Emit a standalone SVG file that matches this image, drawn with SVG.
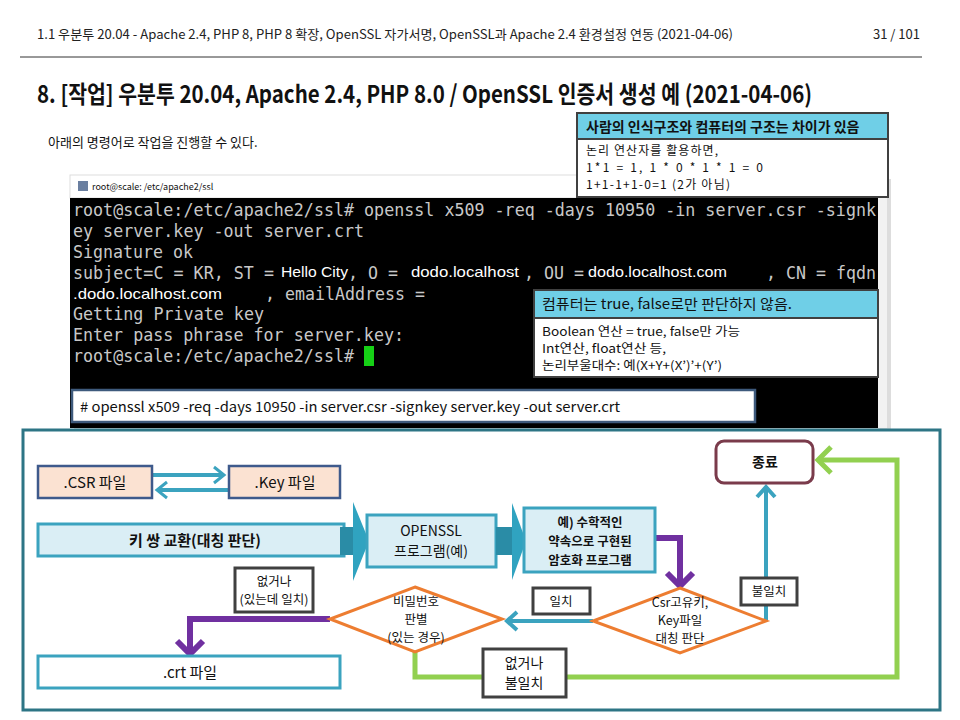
<svg xmlns="http://www.w3.org/2000/svg" width="960" height="720" viewBox="0 0 960 720">
<style>
text{font-family:"Noto Sans CJK KR","Noto Sans",sans-serif;fill:#111}
.hd{font-size:13px;fill:#222}
.mono{font-family:"DejaVu Sans Mono","Liberation Mono",monospace;font-size:17px;fill:#c8c8c8}
.wsans{font-family:"Liberation Sans","Noto Sans CJK KR",sans-serif;font-size:15px;fill:#fff}
.c{text-anchor:middle}
.n15{font-size:15px}
.n14{font-size:14px}
.n13{font-size:12.5px}
.b{font-weight:bold}
.cyanbox{fill:#daeef5;stroke:#3ba3bf;stroke-width:3}
.peach{fill:#fbe2d2;stroke:#3e5a8c;stroke-width:2.5}
.lbl{fill:#fff;stroke:#404040;stroke-width:3}
.dia{fill:#fff;stroke:#ed7d31;stroke-width:3}
.cy{fill:none;stroke:#3ba3bf;stroke-width:4}
.pu{fill:none;stroke:#7030a0;stroke-width:6}
.gr{fill:none;stroke:#92d050;stroke-width:5}
</style>
<defs>
<marker id="mc" viewBox="-16 -14 20 28" markerWidth="20" markerHeight="28" refX="0" refY="0" orient="auto" markerUnits="userSpaceOnUse"><path d="M-10,-9 L0,0 L-10,9" fill="none" stroke="#3ba3bf" stroke-width="4"/></marker>
<marker id="mcs" viewBox="-16 -14 20 28" markerWidth="20" markerHeight="28" refX="0" refY="0" orient="auto" markerUnits="userSpaceOnUse"><path d="M-10,-8 L0,0 L-10,8" fill="none" stroke="#3ba3bf" stroke-width="3"/></marker>
<marker id="mp" viewBox="-20 -18 24 36" markerWidth="24" markerHeight="36" refX="0" refY="0" orient="auto" markerUnits="userSpaceOnUse"><path d="M-13,-13 L0,0 L-13,13" fill="none" stroke="#7030a0" stroke-width="6"/></marker>
<marker id="mg" viewBox="-20 -18 24 36" markerWidth="24" markerHeight="36" refX="0" refY="0" orient="auto" markerUnits="userSpaceOnUse"><path d="M-13,-13 L0,0 L-13,13" fill="none" stroke="#92d050" stroke-width="5"/></marker>
</defs>
<rect width="960" height="720" fill="#fff"/>

<!-- header -->
<text class="hd" x="37" y="39" textLength="696" lengthAdjust="spacingAndGlyphs">1.1 우분투 20.04 - Apache 2.4, PHP 8, PHP 8 확장, OpenSSL 자가서명, OpenSSL과 Apache 2.4 환경설정 연동 (2021-04-06)</text>
<text class="hd" x="920" y="39" text-anchor="end">31 / 101</text>
<line x1="20" y1="57" x2="922" y2="57" stroke="#333" stroke-width="1"/>
<text x="37" y="103" font-size="24" font-weight="600" textLength="775" lengthAdjust="spacingAndGlyphs">8. [작업] 우분투 20.04, Apache 2.4, PHP 8.0 / OpenSSL 인증서 생성 예 (2021-04-06)</text>
<text x="48" y="147" font-size="13">아래의 명령어로 작업을 진행할 수 있다.</text>

<!-- terminal screenshot -->
<g id="terminal">
<rect x="74" y="179" width="817" height="253" fill="#bbb" opacity="0.5"/>
<rect x="70" y="175" width="817" height="23" fill="#fff" stroke="#ddd" stroke-width="1"/>
<text x="92" y="190" font-size="9" font-family="Liberation Sans,sans-serif" fill="#333">root@scale: /etc/apache2/ssl</text>
<rect x="78" y="181" width="10" height="10" fill="#6a7fa0"/>
<rect x="70" y="198" width="808" height="230" fill="#000"/>
<rect x="878" y="198" width="9" height="230" fill="#f2f2f2"/>
<text class="mono" x="73" y="216" textLength="803" lengthAdjust="spacingAndGlyphs">root@scale:/etc/apache2/ssl# openssl x509 -req -days 10950 -in server.csr -signk</text>
<text class="mono" x="73" y="237" textLength="291" lengthAdjust="spacingAndGlyphs">ey server.key -out server.crt</text>
<text class="mono" x="73" y="258" textLength="120" lengthAdjust="spacingAndGlyphs">Signature ok</text>
<text class="mono" x="73" y="279" textLength="201" lengthAdjust="spacingAndGlyphs">subject=C = KR, ST =</text>
<text class="wsans" x="281" y="277" textLength="67" lengthAdjust="spacingAndGlyphs">Hello City</text>
<text class="mono" x="348" y="279" textLength="50" lengthAdjust="spacingAndGlyphs">, O =</text>
<text class="wsans" x="411" y="277" textLength="108" lengthAdjust="spacingAndGlyphs">dodo.localhost</text>
<text class="mono" x="524" y="279" textLength="60" lengthAdjust="spacingAndGlyphs">, OU =</text>
<text class="wsans" x="588" y="277" textLength="139" lengthAdjust="spacingAndGlyphs">dodo.localhost.com</text>
<text class="mono" x="766" y="279" textLength="110" lengthAdjust="spacingAndGlyphs">, CN = fqdn</text>
<text class="wsans" x="73" y="299" textLength="149" lengthAdjust="spacingAndGlyphs">.dodo.localhost.com</text>
<text class="mono" x="265" y="300" textLength="160" lengthAdjust="spacingAndGlyphs">, emailAddress =</text>
<text class="mono" x="73" y="320" textLength="191" lengthAdjust="spacingAndGlyphs">Getting Private key</text>
<text class="mono" x="73" y="341" textLength="331" lengthAdjust="spacingAndGlyphs">Enter pass phrase for server.key:</text>
<text class="mono" x="73" y="362" textLength="281" lengthAdjust="spacingAndGlyphs">root@scale:/etc/apache2/ssl#</text>
<rect x="364" y="346" width="10" height="20" fill="#16d016"/>
</g>

<!-- callout 1 -->
<g id="note-human">
<rect x="577" y="113" width="311" height="84" fill="#fff" stroke="#404040" stroke-width="2"/>
<rect x="578" y="114" width="309" height="25" fill="#6fcfe7"/>
<line x1="577" y1="139" x2="888" y2="139" stroke="#404040" stroke-width="2"/>
<text x="586" y="132" font-size="14" font-weight="bold">사람의 인식구조와 컴퓨터의 구조는 차이가 있음</text>
<text x="586" y="155" font-size="12" textLength="132" lengthAdjust="spacing">논리 연산자를 활용하면,</text>
<text x="586" y="172" font-size="12" textLength="177" lengthAdjust="spacing">1*1 = 1, 1 * 0 * 1 * 1 = 0</text>
<text x="586" y="189" font-size="12" textLength="144" lengthAdjust="spacing">1+1-1+1-0=1 (2가 아님)</text>
</g>

<!-- callout 2 -->
<g id="note-computer">
<rect x="534" y="290" width="344" height="87" fill="#fff" stroke="#404040" stroke-width="2"/>
<rect x="535" y="291" width="342" height="27" fill="#6fcfe7"/>
<line x1="534" y1="318" x2="878" y2="318" stroke="#404040" stroke-width="2"/>
<text x="542" y="309" font-size="14" textLength="250" lengthAdjust="spacingAndGlyphs">컴퓨터는 true, false로만 판단하지 않음.</text>
<text x="542" y="336" font-size="12" textLength="198" lengthAdjust="spacingAndGlyphs">Boolean 연산 = true, false만 가능</text>
<text x="542" y="353" font-size="12" textLength="124" lengthAdjust="spacingAndGlyphs">Int연산, float연산 등,</text>
<text x="542" y="370" font-size="12" textLength="180" lengthAdjust="spacingAndGlyphs">논리부울대수:  예(X+Y+(X’)’+(Y’)</text>
</g>

<!-- command box -->
<g id="command">
<rect x="72" y="390" width="683" height="32" fill="#fff" stroke="#3e5a7c" stroke-width="2.5"/>
<text x="80" y="412" font-size="14" textLength="540" lengthAdjust="spacingAndGlyphs"># openssl x509 -req -days 10950 -in server.csr -signkey server.key -out server.crt</text>
</g>

<!-- flow frame -->
<rect x="23" y="430" width="917" height="280" fill="#fff" stroke="#2d7585" stroke-width="3"/>

<g id="connectors">
<path class="cy" d="M153,475 H224" stroke-width="3" marker-end="url(#mcs)"/>
<path class="cy" d="M229,490 H157" stroke-width="3" marker-end="url(#mcs)"/>
<path class="pu" d="M655,538 H680 V586" marker-end="url(#mp)"/>
<path class="cy" d="M593,621 H507" marker-end="url(#mc)"/>
<path class="cy" d="M766,621 V487" marker-end="url(#mc)"/>
<path class="gr" d="M415,652 V677 H897 V460 H818" marker-end="url(#mg)"/>
<path class="pu" d="M330,619 H190 V654" marker-end="url(#mp)"/>
</g>

<g id="csr">
<rect class="peach" x="38" y="466" width="114" height="32"/>
<text class="c n15" x="95" y="488">.CSR 파일</text>
</g>
<g id="key">
<rect class="peach" x="229" y="466" width="111" height="32"/>
<text class="c n15" x="285" y="488">.Key 파일</text>
</g>
<g id="keypair">
<rect class="cyanbox" x="38" y="524" width="306" height="32"/>
<text class="c n15 b" x="195" y="546">키 쌍 교환(대칭 판단)</text>
</g>
<g id="bigarrow1">
<rect x="340" y="527" width="14" height="28" fill="#2a8ca6"/>
<polygon points="353,502 369,541 353,581" fill="#30a3c0"/>
</g>
<g id="openssl">
<rect class="cyanbox" x="367" y="515" width="129" height="52"/>
<text class="c n14" x="431" y="536">OPENSSL</text>
<text class="c n14" x="431" y="556">프로그램(예)</text>
</g>
<g id="bigarrow2">
<rect x="496" y="527" width="17" height="28" fill="#2a8ca6"/>
<polygon points="512,503 526,541 512,580" fill="#30a3c0"/>
</g>
<g id="crypto">
<rect class="cyanbox" x="524" y="508" width="131" height="64"/>
<text class="c n13 b" x="590" y="527">예) 수학적인</text>
<text class="c n13 b" x="590" y="546">약속으로 구현된</text>
<text class="c n13 b" x="590" y="565">암호화 프로그램</text>
</g>
<g id="decide-key">
<polygon class="dia" points="680,588 766,621 680,653 593,621"/>
<text class="c n13" x="680" y="607">Csr고유키,</text>
<text class="c n13" x="680" y="625">Key파일</text>
<text class="c n13" x="680" y="643">대칭 판단</text>
</g>
<g id="decide-pw">
<polygon class="dia" points="415,587 502,619 415,652 330,619"/>
<text class="c n13" x="416" y="606">비밀번호</text>
<text class="c n13" x="416" y="624">판별</text>
<text class="c n13" x="416" y="642">(있는 경우)</text>
</g>
<g id="end">
<rect x="716" y="441" width="97" height="42" rx="8" fill="#fff" stroke="#7a3b4b" stroke-width="3"/>
<text class="c n14 b" x="765" y="467">종료</text>
</g>
<g id="crt">
<rect x="38" y="656" width="302" height="32" fill="#fff" stroke="#3ba3bf" stroke-width="3"/>
<text class="c n15" x="190" y="678">.crt 파일</text>
</g>
<g id="lbl-mismatch">
<rect class="lbl" x="741" y="578" width="56" height="27"/>
<text class="c n13" x="769" y="596">불일치</text>
</g>
<g id="lbl-match">
<rect class="lbl" x="533" y="588" width="57" height="26"/>
<text class="c n13" x="561" y="606">일치</text>
</g>
<g id="lbl-none-mismatch">
<rect class="lbl" x="483" y="649" width="83" height="48"/>
<text class="c n14" x="524" y="668">없거나</text>
<text class="c n14" x="524" y="688">불일치</text>
</g>
<g id="lbl-none-match">
<rect class="lbl" x="235" y="568" width="78" height="44"/>
<text class="c n13" x="274" y="586">없거나</text>
<text class="c n13" x="274" y="604">(있는데 일치)</text>
</g>
</svg>
